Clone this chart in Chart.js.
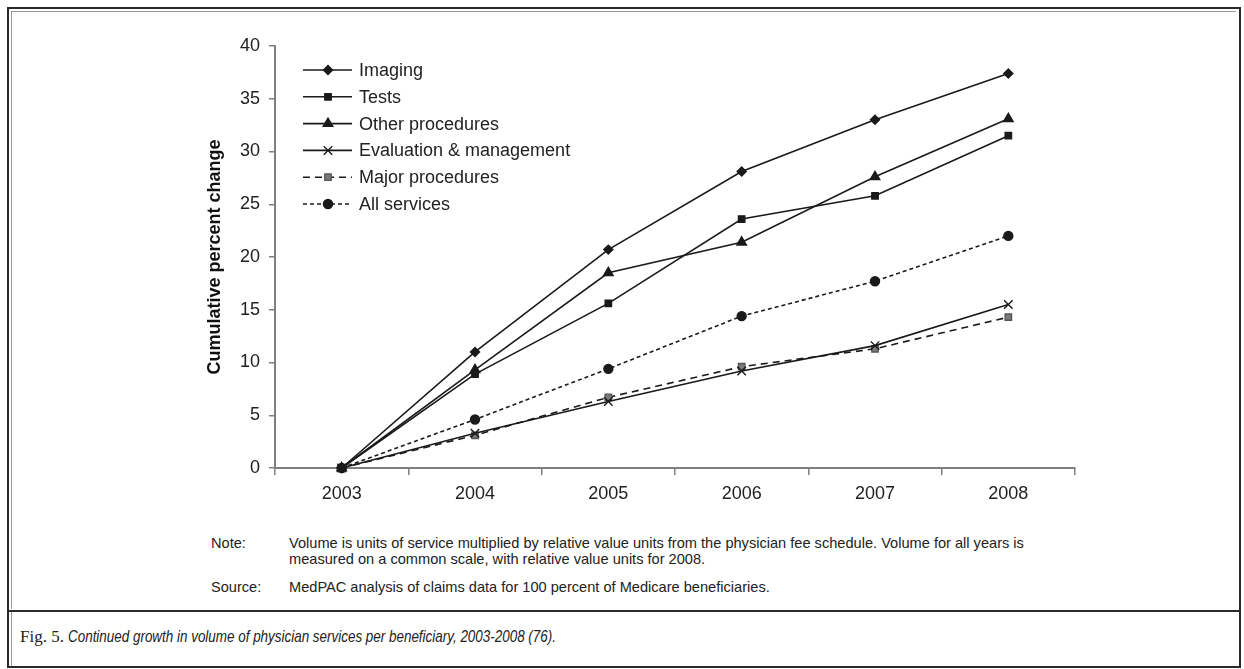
<!DOCTYPE html>
<html>
<head>
<meta charset="utf-8">
<script src="https://cdn.jsdelivr.net/npm/chart.js@4.4.0/dist/chart.umd.min.js"></script>
<style>
  html, body { margin: 0; padding: 0; background: #fff; }
  body { width: 1244px; height: 669px; position: relative; overflow: hidden; font-family: "Liberation Sans", Arial, sans-serif; }
  #outer { position: absolute; left: 7px; top: 7px; width: 1230px; height: 657px; border: 2px solid #2a2a2a; }
  #inner { position: absolute; left: 11px; top: 11px; width: 1224px; height: 597px; border: 1px solid #9a9a9a; border-right: none; border-bottom: none; }
  #sep { position: absolute; left: 7px; top: 610px; width: 1234px; height: 2px; background: #2a2a2a; }
  #capline { position: absolute; left: 11px; top: 612px; width: 1px; height: 54px; background: #9a9a9a; }
  #chart { position: absolute; left: 0; top: 0; }
  .note { position: absolute; font-size: 14.6px; color: #222; line-height: 16px; white-space: nowrap; }
  #caption { position: absolute; left: 20px; top: 627px; font-size: 17px; color: #222; white-space: nowrap; }
  #caption .fig { font-family: "Liberation Serif", serif; }
  #caption .txt { display: inline-block; font-family: "Liberation Sans", sans-serif; font-style: italic; transform: scaleX(0.79); transform-origin: left center; }
</style>
</head>
<body>
<div id="outer"></div>
<div id="inner"></div>
<div id="sep"></div>
<div id="capline"></div>
<canvas id="chart" width="1244" height="500"></canvas>
<div class="note" style="left:211px; top:535px;">Note:</div>
<div class="note" style="left:289px; top:535px;">Volume is units of service multiplied by relative value units from the physician fee schedule. Volume for all years is<br>measured on a common scale, with relative value units for 2008.</div>
<div class="note" style="left:211px; top:579px;">Source:</div>
<div class="note" style="left:289px; top:579px;">MedPAC analysis of claims data for 100 percent of Medicare beneficiaries.</div>
<div id="caption"><span class="fig">Fig. 5. </span><span class="txt">Continued growth in volume of physician services per beneficiary, 2003-2008 (76).</span></div>

<script>
const years = ['2003', '2004', '2005', '2006', '2007', '2008'];
const imaging = [0, 11.0, 20.7, 28.1, 33.0, 37.4];
const tests = [0, 8.9, 15.6, 23.6, 25.8, 31.5];
const otherProcedures = [0, 9.3, 18.5, 21.4, 27.6, 33.1];
const evalManagement = [0, 3.3, 6.3, 9.2, 11.6, 15.5];
const majorProcedures = [0, 3.1, 6.7, 9.6, 11.3, 14.3];
const allServices = [0, 4.6, 9.4, 14.4, 17.7, 22.0];

const ink = '#1a1a1a';
const axisGray = '#7f7f7f';

// legend drawn by hand: line sample with dash + marker, like the original
const manualLegend = {
    id: 'manualLegend',
    afterDraw(chart) {
        const ctx = chart.ctx;
        const x0 = 303, x1 = 352, xm = 328, xt = 359;
        let y = 70;
        chart.data.datasets.forEach(ds => {
            ctx.save();
            ctx.strokeStyle = ds.borderColor;
            ctx.lineWidth = ds.borderWidth;
            ctx.setLineDash(ds.borderDash || []);
            ctx.beginPath();
            ctx.moveTo(x0, y);
            ctx.lineTo(x1, y);
            ctx.stroke();
            ctx.setLineDash([]);
            ctx.fillStyle = ds.pointBackgroundColor;
            ctx.strokeStyle = ds.pointBorderColor;
            ctx.lineWidth = ds.pointBorderWidth;
            Chart.helpers.drawPoint(ctx, {
                pointStyle: ds.pointStyle,
                radius: ds.pointRadius,
                borderWidth: ds.pointBorderWidth,
                rotation: 0
            }, xm, y);
            ctx.fillStyle = '#222';
            ctx.font = '18px "Liberation Sans", Arial, sans-serif';
            ctx.textBaseline = 'middle';
            ctx.textAlign = 'left';
            ctx.fillText(ds.label, xt, y + 1);
            ctx.restore();
            y += 26.8;
        });
    }
};

function series(label, data, style, radius, dash, fill) {
    return {
        label: label,
        data: data,
        borderColor: ink,
        borderWidth: 1.6,
        borderDash: dash,
        pointStyle: style,
        pointRadius: radius,
        pointHoverRadius: radius,
        pointBackgroundColor: fill || ink,
        pointBorderColor: fill ? '#555' : ink,
        pointBorderWidth: 1.4,
        tension: 0,
        clip: false
    };
}

new Chart(document.getElementById('chart'), {
    type: 'line',
    data: {
        labels: years,
        datasets: [
            series('Imaging', imaging, 'rectRot', 4.5, []),
            series('Tests', tests, 'rect', 4.5, []),
            series('Other procedures', otherProcedures, 'triangle', 5.5, []),
            series('Evaluation & management', evalManagement, 'crossRot', 6, []),
            series('Major procedures', majorProcedures, 'rect', 4.5, [7, 5], '#7a7a7a'),
            series('All services', allServices, 'circle', 4.5, [4, 3])
        ]
    },
    options: {
        responsive: false,
        animation: false,
        events: [],
        layout: { padding: { left: 195, right: 169, top: 46, bottom: 0 } },
        plugins: {
            legend: { display: false },
            tooltip: { enabled: false }
        },
        scales: {
            x: {
                offset: true,
                grid: { offset: true, drawOnChartArea: false, tickLength: 7, color: axisGray, lineWidth: 1.5 },
                border: { color: axisGray, width: 2 },
                ticks: { color: '#222', padding: 8, font: { size: 18, family: '"Liberation Sans", Arial, sans-serif' } },
                afterFit(s) { s.height = 32; }
            },
            y: {
                min: 0,
                max: 40,
                ticks: { stepSize: 5, color: '#222', padding: 9, font: { size: 18, family: '"Liberation Sans", Arial, sans-serif' } },
                grid: { drawOnChartArea: false, tickLength: 6, color: axisGray, lineWidth: 1.5 },
                border: { color: axisGray, width: 2 },
                title: {
                    display: true,
                    text: 'Cumulative percent change',
                    color: '#111',
                    padding: { top: 9, bottom: 0 },
                    font: { size: 18, weight: 'bold', family: '"Liberation Sans", Arial, sans-serif' }
                },
                afterFit(s) { s.width = 80; }
            }
        }
    },
    plugins: [manualLegend]
});
</script>
</body>
</html>
